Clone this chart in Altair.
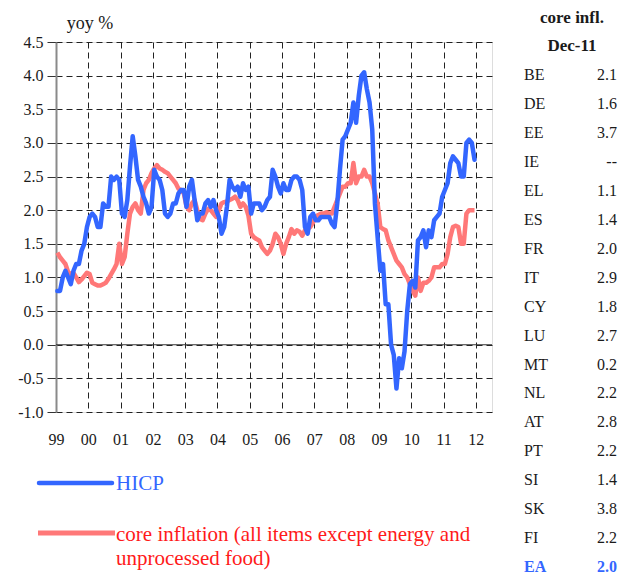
import json
import altair as alt
import pandas as pd

# ---------------- data ----------------
hicp_1999 = [0.8, 0.8, 1.0, 1.1, 1.0, 0.9, 1.1, 1.2, 1.2, 1.4, 1.5, 1.75]
hicp_2000 = [1.9, 1.95, 1.9, 1.75, 1.75, 2.1, 2.05, 2.05, 2.5, 2.45, 2.5, 2.45]
hicp_2001 = [1.95, 1.9, 2.15, 2.65, 3.1, 2.8, 2.45, 2.35, 2.2, 2.1, 1.95, 2.05]
hicp_2002 = [2.6, 2.5, 2.45, 2.3, 1.95, 1.9, 1.95, 2.1, 2.1, 2.25, 2.3, 2.3]
hicp_2003 = [2.05, 2.35, 2.45, 2.15, 1.85, 1.95, 1.95, 2.1, 2.15, 2.05, 2.15, 2.0]
hicp_2004 = [1.9, 1.65, 1.75, 2.05, 2.45, 2.35, 2.3, 2.35, 2.2, 2.4, 2.3, 2.35]
hicp_2005 = [1.95, 2.1, 2.1, 2.1, 2.0, 2.05, 2.15, 2.2, 2.6, 2.5, 2.35, 2.25]
hicp_2006 = [2.4, 2.3, 2.3, 2.45, 2.5, 2.5, 2.45, 2.3, 1.75, 1.65, 1.9, 1.95]
hicp_2007 = [1.85, 1.85, 1.9, 1.9, 1.9, 1.9, 1.8, 1.75, 2.1, 2.6, 3.05, 3.1]
hicp_2008 = [3.2, 3.3, 3.6, 3.3, 3.7, 4.0, 4.05, 3.8, 3.6, 3.2, 2.1, 1.6]
hicp_2009 = [1.1, 1.2, 0.6, 0.6, 0.0, -0.15, -0.65, -0.2, -0.35, -0.1, 0.5, 0.9]
hicp_2010 = [0.95, 0.85, 1.55, 1.6, 1.7, 1.45, 1.7, 1.6, 1.85, 1.9, 1.95, 2.2]
hicp_2011 = [2.3, 2.4, 2.7, 2.8, 2.75, 2.7, 2.5, 2.5, 3.0, 3.05, 3.0, 2.75]

core_1999 = [1.37, 1.3, 1.25, 1.2, 1.08, 1.05, 1.07, 1.0, 0.93, 0.97, 1.02, 1.07]
core_2000 = [1.05, 0.92, 0.9, 0.88, 0.88, 0.9, 0.92, 0.98, 1.05, 1.12, 1.2, 1.5]
core_2001 = [1.2, 1.3, 1.65, 1.95, 2.05, 2.1, 2.0, 1.95, 2.3, 2.4, 2.45, 2.55]
core_2002 = [2.62, 2.67, 2.62, 2.6, 2.57, 2.55, 2.5, 2.45, 2.4, 2.32, 2.3, 2.25]
core_2003 = [2.05, 2.0, 2.1, 2.15, 2.0, 1.87, 1.85, 1.95, 2.02, 2.0, 1.95, 1.9]
core_2004 = [2.0, 2.1, 2.12, 2.13, 2.15, 2.17, 2.2, 2.15, 2.05, 2.1, 2.05, 1.92]
core_2005 = [1.65, 1.6, 1.57, 1.55, 1.45, 1.4, 1.35, 1.4, 1.5, 1.65, 1.6, 1.5]
core_2006 = [1.35, 1.5, 1.6, 1.72, 1.65, 1.7, 1.68, 1.62, 1.7, 1.72, 1.75, 1.82]
core_2007 = [1.9, 1.93, 1.95, 1.95, 1.97, 1.95, 1.95, 2.05, 2.15, 2.25, 2.35, 2.35]
core_2008 = [2.4, 2.4, 2.7, 2.4, 2.5, 2.5, 2.6, 2.5, 2.5, 2.4, 2.25, 2.1]
core_2009 = [1.75, 1.72, 1.7, 1.55, 1.45, 1.35, 1.25, 1.2, 1.15, 1.05, 1.0, 0.9]
core_2010 = [0.8, 0.73, 1.0, 0.8, 0.92, 0.92, 0.95, 1.0, 1.15, 1.15, 1.15, 1.2]
core_2011 = [1.2, 1.35, 1.6, 1.75, 1.77, 1.75, 1.5, 1.5, 1.95, 2.0, 2.0, 2.0]

hicp = (hicp_1999 + hicp_2000 + hicp_2001 + hicp_2002 + hicp_2003 + hicp_2004 +
        hicp_2005 + hicp_2006 + hicp_2007 + hicp_2008 + hicp_2009 + hicp_2010 + hicp_2011)
core = (core_1999 + core_2000 + core_2001 + core_2002 + core_2003 + core_2004 +
        core_2005 + core_2006 + core_2007 + core_2008 + core_2009 + core_2010 + core_2011)

year_labels = ["99", "00", "01", "02", "03", "04", "05", "06", "07", "08", "09", "10", "11", "12"]
y_ticks = [-1.0, -0.5, 0.0, 0.5, 1.0, 1.5, 2.0, 2.5, 3.0, 3.5, 4.0, 4.5]

countries = ["BE", "DE", "EE", "IE", "EL", "ES", "FR", "IT", "CY", "LU", "MT", "NL",
             "AT", "PT", "SI", "SK", "FI", "EA"]
core_dec11 = ["2.1", "1.6", "3.7", "--", "1.1", "1.4", "2.0", "2.9", "1.8", "2.7", "0.2",
              "2.2", "2.8", "2.2", "1.4", "3.8", "2.2", "2.0"]
table_headers = ["core infl.", "Dec-11"]
legend_hicp = ["HICP"]
legend_core = ["core inflation (all items except energy and", "unprocessed food)"]
y_title = ["yoy %"]

FONT = "Liberation Serif"
BLUE = "#3366FF"
RED_LINE = "#FF7878"
RED_TEXT = "#FF1A1A"
TXT = "#1a1a1a"

# month index (Jan 1999 = 0), plotted mid-month
months = [i + 0.5 for i in range(len(hicp))]
df = pd.DataFrame({
    "month": months * 2,
    "value": hicp + core,
    "series": ["HICP"] * len(hicp) + ["core"] * len(core),
})

W, H = 436, 370

label_expr = json.dumps(year_labels) + "[round(datum.value / 12)]"
x_axis = alt.Axis(
    values=list(range(0, 157, 12)), labelExpr=label_expr, title=None,
    grid=True, gridDash=[6, 4], gridColor="#222", gridWidth=1,
    domain=False, ticks=False, labelPadding=19, labelFont=FONT, labelFlush=False,
    labelFontSize=16, labelColor=TXT, labelAngle=0,
)
y_axis = alt.Axis(
    values=y_ticks, title=None,
    labelExpr="(datum.value < 0 ? '-' : '') + format(abs(datum.value), '.1f')",
    grid=True, gridDash=[6, 4], gridColor="#222", gridWidth=1,
    domain=True, domainColor="#8a8a8a", domainWidth=2,
    ticks=True, tickSize=9, tickColor="#333", tickWidth=1,
    labelPadding=4, labelFont=FONT, labelFontSize=16, labelColor=TXT,
)
x_scale = alt.Scale(domain=[0, 162], nice=False, zero=False)
y_scale = alt.Scale(domain=[-1, 4.5], nice=False, zero=False)
x_enc = alt.X("month:Q", scale=x_scale, axis=x_axis)
y_enc = alt.Y("value:Q", scale=y_scale, axis=y_axis)

base = alt.Chart(df)
zero_line = alt.Chart(pd.DataFrame({"z": [0.0]})).mark_rule(
    color="#333", strokeWidth=1.2
).encode(y=alt.Y("z:Q", scale=y_scale, axis=y_axis))

core_line = base.transform_filter(alt.datum.series == "core").mark_line(
    color=RED_LINE, strokeWidth=4.5, strokeJoin="round"
).encode(x=x_enc, y=y_enc)
hicp_line = base.transform_filter(alt.datum.series == "HICP").mark_line(
    color=BLUE, strokeWidth=4.5, strokeJoin="round", strokeCap="round"
).encode(x=x_enc, y=y_enc)

plot = alt.layer(core_line, zero_line, hicp_line)

# ---------------- table on the right ----------------
tab = pd.DataFrame({"country": countries, "val": core_dec11, "row": list(range(len(countries)))})
hdr = pd.DataFrame({"h": table_headers, "row": [-2, -1]})
ty = alt.Y("row:Q", scale=alt.Scale(domain=[-2, 17], range=[-24.5, 525], nice=False, zero=False),
           axis=None)

t_country = alt.Chart(tab).transform_filter(alt.datum.country != "EA").mark_text(
    align="left", baseline="middle", font=FONT, fontSize=16, color=TXT
).encode(x=alt.value(468), y=ty, text="country:N")
t_val = alt.Chart(tab).transform_filter(alt.datum.country != "EA").mark_text(
    align="right", baseline="middle", font=FONT, fontSize=16, color=TXT
).encode(x=alt.value(561), y=ty, text="val:N")
t_ea_c = alt.Chart(tab).transform_filter(alt.datum.country == "EA").mark_text(
    align="left", baseline="middle", font=FONT, fontSize=16, fontWeight="bold", color=BLUE
).encode(x=alt.value(468), y=ty, text="country:N")
t_ea_v = alt.Chart(tab).transform_filter(alt.datum.country == "EA").mark_text(
    align="right", baseline="middle", font=FONT, fontSize=16, fontWeight="bold", color=BLUE
).encode(x=alt.value(561), y=ty, text="val:N")
t_hdr = alt.Chart(hdr).mark_text(
    align="center", baseline="middle", font=FONT, fontSize=17, fontWeight="bold", color=TXT
).encode(x=alt.value(516), y=ty, text="h:N")

table = alt.layer(t_country, t_val, t_ea_c, t_ea_v, t_hdr)

# ---------------- legend & title texts ----------------
leg_blue = alt.Chart(pd.DataFrame({"s": legend_hicp})).mark_rule(
    color=BLUE, strokeWidth=4.5, strokeCap="round"
).encode(x=alt.value(-17), x2=alt.value(56), y=alt.value(441))
leg_red = alt.Chart(pd.DataFrame({"s": ["core"]})).mark_rule(
    color=RED_LINE, strokeWidth=5
).encode(x=alt.value(-18), x2=alt.value(59), y=alt.value(491))
leg_blue_t = alt.Chart(pd.DataFrame({"t": legend_hicp})).mark_text(
    align="left", baseline="middle", font=FONT, fontSize=21, color=BLUE
).encode(x=alt.value(60), y=alt.value(442), text="t:N")
leg_red_t1 = alt.Chart(pd.DataFrame({"t": legend_core[:1]})).mark_text(
    align="left", baseline="middle", font=FONT, fontSize=21, color=RED_TEXT
).encode(x=alt.value(60), y=alt.value(493), text="t:N")
leg_red_t2 = alt.Chart(pd.DataFrame({"t": legend_core[1:]})).mark_text(
    align="left", baseline="middle", font=FONT, fontSize=21, color=RED_TEXT
).encode(x=alt.value(60), y=alt.value(517), text="t:N")
ytitle = alt.Chart(pd.DataFrame({"t": y_title})).mark_text(
    align="center", baseline="middle", font=FONT, fontSize=18, color=TXT
).encode(x=alt.value(34), y=alt.value(-18), text="t:N")

chart = alt.layer(
    plot, table, leg_blue, leg_red, leg_blue_t, leg_red_t1, leg_red_t2, ytitle
).resolve_scale(y="independent").properties(
    width=W, height=H,
    autosize=alt.AutoSizeParams(type="none"),
    padding={"left": 48, "top": 34, "right": 132, "bottom": 163},
).configure_view(strokeWidth=0).configure(background="white")

chart.save("out.html", embed_options={"renderer": "svg", "actions": False})
